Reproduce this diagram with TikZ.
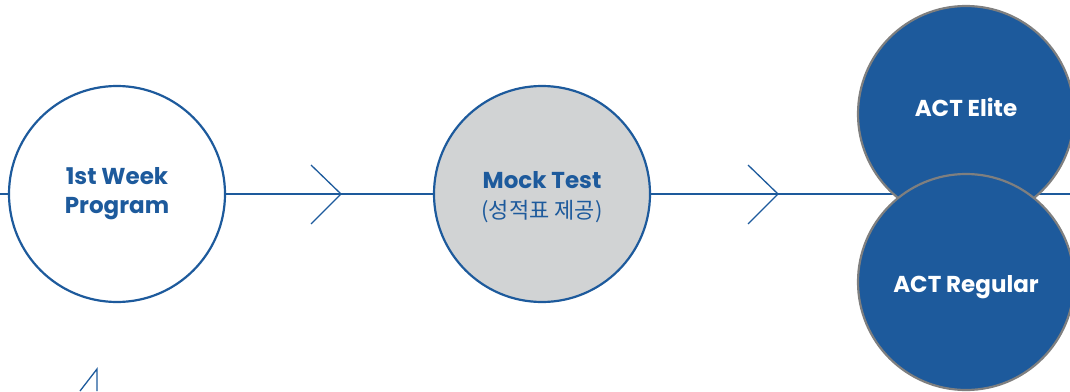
\documentclass[tikz,border=0pt]{standalone}
\usepackage{fontspec}
\setmainfont{Poppins}
\newfontfamily\kor{Noto Sans CJK KR}
\definecolor{navy}{HTML}{1D5A9C}
\definecolor{lgray}{HTML}{D1D3D4}
\definecolor{rim}{HTML}{7F7F7F}
\tikzset{
  flow/.style={draw=navy, line width=1.3pt},
  chev/.style={draw=navy, line width=1.3pt},
  stage/.style={circle, minimum size=216pt, inner sep=0pt, draw=navy, line width=2.2pt, align=center, text=navy, font=\bfseries\fontsize{23}{29}\selectfont},
  act/.style={circle, minimum size=216pt, inner sep=0pt, draw=rim, line width=2.2pt, fill=navy, text=white, align=center, font=\bfseries\fontsize{23}{28}\selectfont},
  acttext/.style={text=white, font=\bfseries\fontsize{23}{28}\selectfont}
}
\begin{document}
\begin{tikzpicture}[x=1pt,y=-1pt]
\useasboundingbox (0,0) rectangle (1070,391);
\coordinate (L) at (0,194);
\coordinate (R) at (1070,194);
\draw[flow] (L) -- (R);
\node[stage, fill=white] (c1) at (117,194) {1st Week\\Program};
\node[stage, fill=lgray, label={[align=center, text=navy, font=\bfseries\fontsize{23}{29}\selectfont, yshift=-3pt]center:Mock Test\\[1pt]{\mdseries\kor\fontsize{22}{24}\selectfont (성적표 제공)}}] (c2) at (542,194) {};
\node[act, label={[acttext, yshift=7pt]center:ACT Elite}] (elite) at (966,114) {};
\node[act, label={[acttext, yshift=-5pt]center:ACT Regular}] (regular) at (966,282) {};
% chevrons
\coordinate (a1) at (311,165); \coordinate (a2) at (341,194); \coordinate (a3) at (311,224);
\draw[chev] (a1) -- (a2) -- (a3);
\coordinate (b1) at (748,165); \coordinate (b2) at (778,194); \coordinate (b3) at (748,224);
\draw[chev] (b1) -- (b2) -- (b3);
\coordinate (d1) at (80,391); \coordinate (d2) at (97,369); \coordinate (d3) at (97,391);
\draw[chev] (d1) -- (d2) -- (d3);
\end{tikzpicture}
\end{document}
